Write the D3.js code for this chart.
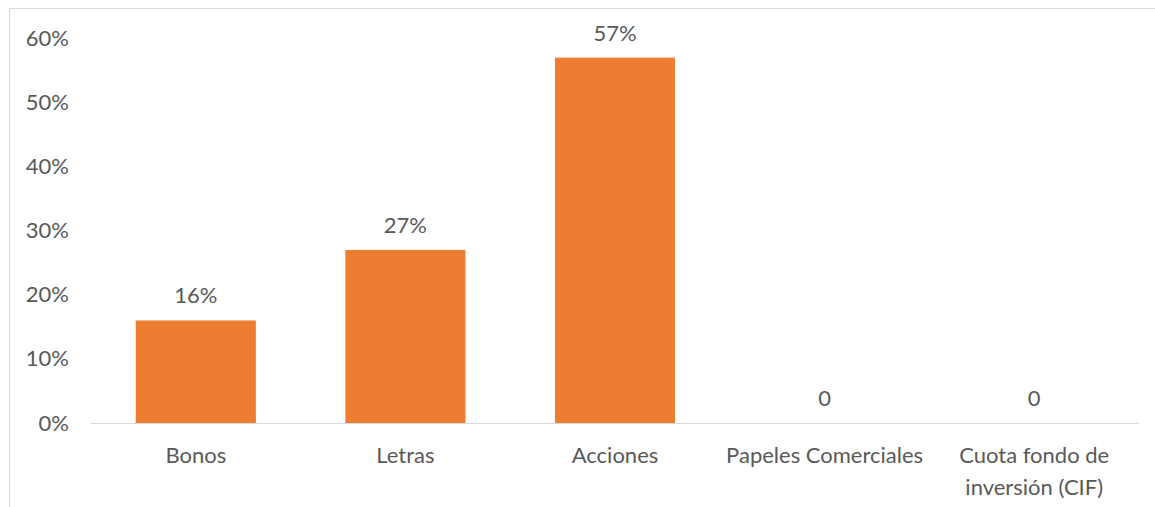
<!DOCTYPE html>
<html>
<head>
<meta charset="utf-8">
<script src="https://cdn.jsdelivr.net/npm/d3@7"></script>
<style>
  body { margin: 0; background: #fff; }
  svg { display: block; }
  text { font-family: Lato, "Open Sans", sans-serif; fill: #595959; }
</style>
</head>
<body>
<svg id="chart" width="1155" height="507"></svg>
<script>
var categories = ["Bonos", "Letras", "Acciones", "Papeles Comerciales", "Cuota fondo de inversión (CIF)"];
var values = [0.16, 0.27, 0.57, 0, 0];
var valueLabels = ["16%", "27%", "57%", "0", "0"];
var yTicks = [0, 0.1, 0.2, 0.3, 0.4, 0.5, 0.6];

var fontSize = 22;

function wrapLabel(sel, width) {
    sel.each(function() {
        var t = d3.select(this);
        var words = t.text().split(" ");
        var lines = [], line = [];
        t.text(null);
        var tmp = t.append("tspan");
        words.forEach(function(w) {
            line.push(w);
            tmp.text(line.join(" "));
            if (tmp.node().getComputedTextLength() > width && line.length > 1) {
                line.pop();
                lines.push(line.join(" "));
                line = [w];
            }
        });
        lines.push(line.join(" "));
        tmp.remove();
        lines.forEach(function(l, i) {
            t.append("tspan").attr("x", 0).attr("dy", i ? 32 : 0).text(l);
        });
    });
}

function makeChart() {
    var svg = d3.select("svg#chart");

    // chart frame
    svg.append("rect")
        .attr("x", 9.5).attr("y", 8.5)
        .attr("width", 1160).attr("height", 520)
        .attr("fill", "none")
        .attr("stroke", "#d9d9d9");

    var x = d3.scaleBand()
                .domain(categories)
                .range([91, 1139])
                .paddingInner(0.427)
                .paddingOuter(0.2135);

    var y = d3.scaleLinear()
                .domain([0, 0.6])
                .range([423, 38.4]);

    var yAxis = svg.append("g")
                .attr("transform", "translate(69,0)")
                .call(d3.axisLeft(y).tickValues(yTicks)
                        .tickFormat(d3.format(".0%")).tickSize(0).tickPadding(0));
    yAxis.select(".domain").remove();
    yAxis.selectAll("text").attr("font-size", fontSize).attr("fill", "#595959")
        .style("font-family", "Lato, 'Open Sans', sans-serif");

    svg.selectAll("rect.bar")
        .data(values)
        .enter()
        .append("rect")
        .attr("class", "bar")
        .attr("x", (d, i) => x(categories[i]))
        .attr("y", d => y(d))
        .attr("width", x.bandwidth())
        .attr("height", d => y(0) - y(d))
        .attr("fill", "#ed7d31");

    svg.append("line")
        .attr("x1", 91).attr("x2", 1139)
        .attr("y1", y(0) + 0.5).attr("y2", y(0) + 0.5)
        .attr("stroke", "#d9d9d9")
        .attr("stroke-width", 1);

    svg.selectAll("text.val")
        .data(values)
        .enter()
        .append("text")
        .attr("class", "val")
        .attr("x", (d, i) => x(categories[i]) + x.bandwidth() / 2)
        .attr("y", d => y(d) - 17)
        .attr("text-anchor", "middle")
        .attr("font-size", fontSize)
        .text((d, i) => valueLabels[i]);

    var xAxis = svg.append("g")
                .attr("transform", "translate(0," + y(0) + ")")
                .call(d3.axisBottom(x).tickSize(0).tickPadding(0));
    xAxis.select(".domain").remove();
    xAxis.selectAll(".tick text")
        .attr("font-size", fontSize)
        .attr("fill", "#595959")
        .style("font-family", "Lato, 'Open Sans', sans-serif")
        .attr("y", 40)
        .attr("dy", 0)
        .call(wrapLabel, 200);
}

makeChart();
</script>
</body>
</html>
